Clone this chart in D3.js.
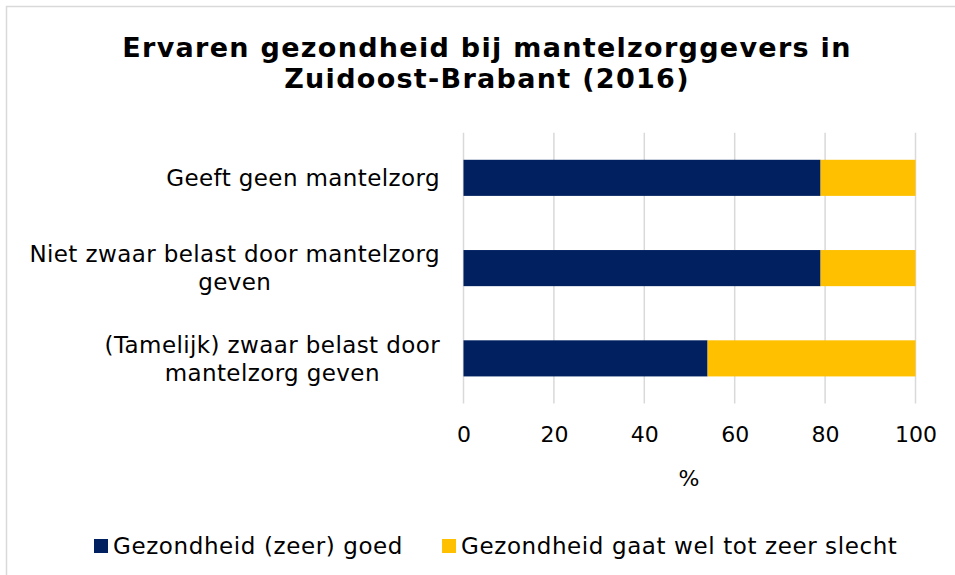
<!DOCTYPE html>
<meta charset="utf-8">
<html lang="nl">
<head>
    <title>Ervaren gezondheid bij mantelzorggevers</title>
    <script src="https://d3js.org/d3.v7.min.js"></script>
</head>
<style>
    body { margin: 0; background: #fff; }
    text { font-family: "DejaVu Sans", Verdana, sans-serif; fill: #000; }
    .title { font-size: 27px; font-weight: bold; text-anchor: middle; letter-spacing: 1.3px; }
    .label { font-size: 23px; text-anchor: middle; letter-spacing: 0.4px; }
    .legend { font-size: 23px; letter-spacing: 0.6px; }
    .tick text { font-size: 22px; }
    .grid line { stroke: #d9d9d9; stroke-width: 1.5px; }
</style>
<body>
<script>
    var categories = ["Geeft geen mantelzorg",
        "Niet zwaar belast door mantelzorg geven",
        "(Tamelijk) zwaar belast door mantelzorg geven"];
    var seriesNames = ["Gezondheid (zeer) goed", "Gezondheid gaat wel tot zeer slecht"];
    var goed = [79, 79, 54];
    var slecht = [21, 21, 46];
    var xTicks = [0, 20, 40, 60, 80, 100];
    var colors = ["#002060", "#FFC000"];

    var W = 955, H = 575;
    var svg = d3.select("body").append("svg").attr("width", W).attr("height", H);

    // chart border (only top and left visible in the crop)
    svg.append("rect").attr("x", 6.5).attr("y", 6.5).attr("width", W + 10).attr("height", H + 10)
        .attr("fill", "none").attr("stroke", "#d9d9d9").attr("stroke-width", 1.5);

    svg.append("text").attr("class", "title").attr("x", 487).attr("y", 57)
        .text("Ervaren gezondheid bij mantelzorggevers in");
    svg.append("text").attr("class", "title").attr("x", 487).attr("y", 88)
        .text("Zuidoost-Brabant (2016)");

    var x = d3.scaleLinear().domain([0, 100]).range([463.5, 915.5]);
    var y = d3.scaleBand().domain(categories).range([132.7, 403.5]).paddingInner(0.6).paddingOuter(0.3);

    // gridlines
    svg.append("g").attr("class", "grid").selectAll("line").data(xTicks).join("line")
        .attr("x1", d => x(d)).attr("x2", d => x(d))
        .attr("y1", 132.7).attr("y2", 403.5);

    // x axis labels
    var xAxis = svg.append("g").attr("transform", "translate(0,403.5)")
        .call(d3.axisBottom(x).tickValues(xTicks).tickSize(0).tickPadding(23).tickFormat(d3.format("d")));
    xAxis.select(".domain").remove();
    xAxis.selectAll("text").attr("fill", "#000").attr("font-family", null).attr("font-size", null);
    svg.append("text").attr("x", 689).attr("y", 486).style("font-size", "22px")
        .attr("text-anchor", "middle").text("%");

    var rows = categories.map((c, i) => ({cat: c, vals: [goed[i], slecht[i]]}));
    var stacked = d3.stack().keys([0, 1]).value((d, k) => d.vals[k])(rows);

    svg.append("g").selectAll("g").data(stacked).join("g")
        .attr("fill", (d, i) => colors[i])
        .selectAll("rect").data(d => d).join("rect")
        .attr("x", d => x(d[0]))
        .attr("width", d => x(d[1]) - x(d[0]))
        .attr("y", d => y(d.data.cat))
        .attr("height", y.bandwidth());

    // category labels, wrapped and centred on their own widest line
    var maxW = 430, rightEdge = 440, lineH = 28;
    var measure = svg.append("text").attr("x", -1000);
    function tw(s, cls) { measure.attr("class", cls).text(s); return measure.node().getComputedTextLength(); }
    categories.forEach(function (c) {
        var words = c.split(" "), lines = [], cur = "";
        words.forEach(function (w) {
            var t = cur ? cur + " " + w : w;
            if (cur && tw(t, "label") > maxW) { lines.push(cur); cur = w; } else cur = t;
        });
        lines.push(cur);
        var wMax = d3.max(lines, l => tw(l, "label"));
        var cy = y(c) + y.bandwidth() / 2;
        var g = svg.append("text").attr("class", "label");
        lines.forEach(function (l, j) {
            g.append("tspan").attr("x", rightEdge - wMax / 2)
                .attr("y", cy + (j - (lines.length - 1) / 2) * lineH)
                .attr("dy", "0.36em").text(l);
        });
    });

    // legend
    var lg = svg.append("g");
    var lx = 94;
    seriesNames.forEach(function (s, i) {
        lg.append("rect").attr("x", lx).attr("y", 539).attr("width", 14).attr("height", 14).attr("fill", colors[i]);
        lg.append("text").attr("class", "legend").attr("x", lx + 19).attr("y", 546).attr("dy", "0.36em").text(s);
        lx += 19 + tw(s, "legend") + 39;
    });
    measure.remove();
</script>
</body>
</html>
